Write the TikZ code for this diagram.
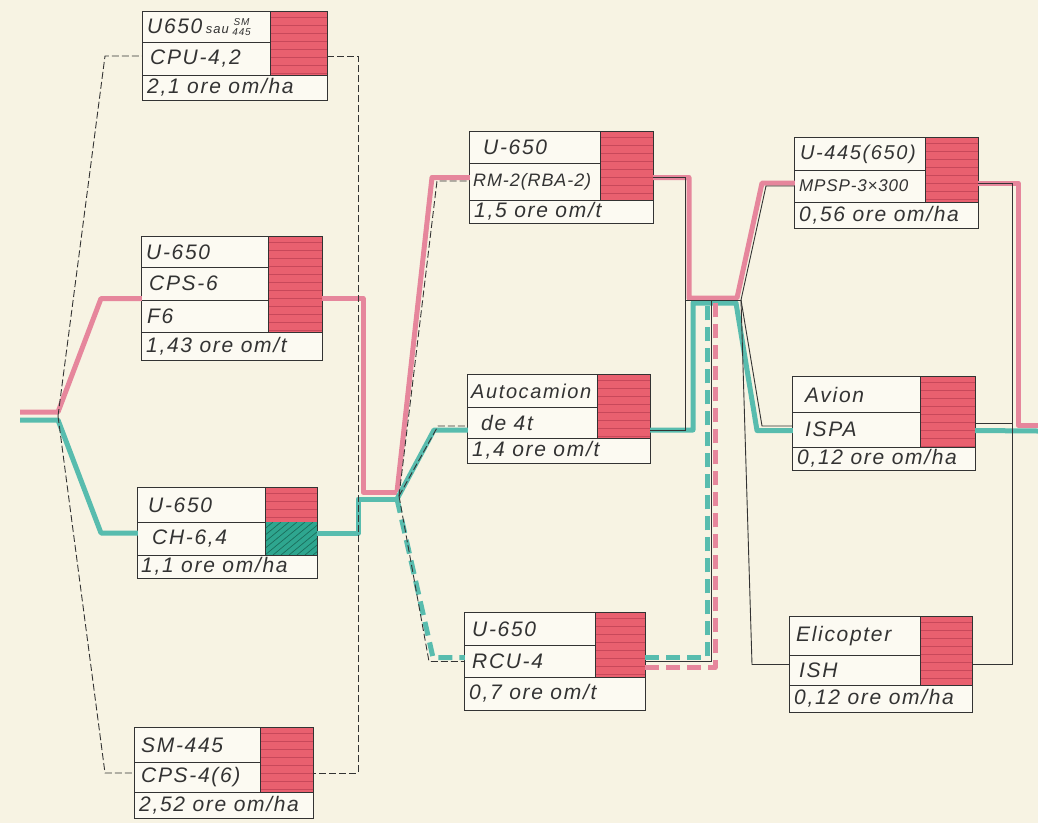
\documentclass[tikz,border=0pt]{standalone}
\usepackage{fontspec}
\setmainfont{Liberation Sans}
\newfontfamily\handfont{Liberation Sans}[LetterSpace=8]
\newfontfamily\handfontn{Liberation Sans}[LetterSpace=5]
\usetikzlibrary{fit,calc}
\definecolor{bgc}{HTML}{F7F3E3}
\definecolor{boxc}{HTML}{FCFAF2}
\definecolor{redf}{HTML}{E9606F}
\definecolor{redl}{HTML}{C8485A}
\definecolor{pinkl}{HTML}{E6869C}
\definecolor{tealc}{HTML}{58BCAE}
\definecolor{tealf}{HTML}{2EA68F}
\definecolor{teald}{HTML}{1B6E5C}
\definecolor{ink}{HTML}{333333}
\newcommand{\hand}{\handfont\itshape\fontsize{21}{24}\selectfont}
\newcommand{\handm}{\handfont\itshape\fontsize{20}{23}\selectfont}
\newcommand{\handsm}{\handfontn\itshape\fontsize{18}{21}\selectfont}
\newcommand{\handxs}{\handfontn\itshape\fontsize{17}{20}\selectfont}
\newcommand{\redblock}[4]{%
  \fill[redf] (#1,#2) rectangle (#3,#4);
  \begin{scope}
    \clip (#1,#2) rectangle (#3,#4);
    \foreach \k in {0,...,14} \draw[redl, line width=0.6pt] (#1,#2+5+8*\k) -- (#3,#2+5+8*\k);
  \end{scope}
  \draw[rowl] (#1,#2) -- (#1,#4);}
\newcommand{\tealblock}[4]{%
  \fill[tealf] (#1,#2) rectangle (#3,#4);
  \begin{scope}
    \clip (#1,#2) rectangle (#3,#4);
    \foreach \k in {0,...,12} \draw[teald, line width=0.7pt] (#1-40+8*\k,#4) -- (#1+8*\k,#2);
  \end{scope}}
\begin{document}
\begin{tikzpicture}[x=1pt,y=-1pt,
  boxbg/.style={fill=boxc, inner sep=0pt, draw=none},
  frame/.style={draw=ink, line width=1.1pt},
  rowl/.style={draw=ink, line width=0.9pt},
  txt/.style={anchor=west, inner sep=0pt, text=ink, font=\hand},
  txtm/.style={txt, font=\handm},
  txts/.style={txt, font=\handsm},
  txtxs/.style={txt, font=\handxs},
  redpath/.style={draw=pinkl, line width=5pt, line join=round},
  tealpath/.style={draw=tealc, line width=5pt, line join=round},
  tealdash/.style={tealpath, dash pattern=on 14pt off 7pt},
  pinkdash/.style={redpath, dash pattern=on 14pt off 7pt},
  net/.style={draw=ink, line width=0.9pt},
  netd/.style={net, dash pattern=on 7pt off 3pt}]
\fill[bgc] (0,0) rectangle (1038,823);
\useasboundingbox (0,0) rectangle (1038,823);

% ---------- boxes (backgrounds) ----------
\node[boxbg, fit={(143,12) (327,100)}] (b1) {};
\node[boxbg, fit={(142,237) (322,360)}] (b2) {};
\node[boxbg, fit={(138,488) (317,578)}] (b3) {};
\node[boxbg, fit={(135,728) (313,818)}] (b4) {};
\node[boxbg, fit={(470,132) (653,223)}] (b5) {};
\node[boxbg, fit={(468,375) (650,463)}] (b6) {};
\node[boxbg, fit={(465,613) (645,710)}] (b7) {};
\node[boxbg, fit={(795,138) (978,228)}] (b8) {};
\node[boxbg, fit={(793,377) (975,470)}] (b9) {};
\node[boxbg, fit={(790,617) (972,712)}] (b10) {};

% ---------- coloured blocks ----------
\redblock{270}{12}{327}{75}
\redblock{268}{237}{322}{332}
\redblock{265}{488}{317}{522}
\tealblock{265}{522}{317}{555}
\draw[rowl] (265,488) -- (265,555);
\redblock{260}{728}{313}{792}
\redblock{600}{132}{653}{200}
\redblock{597}{375}{650}{438}
\redblock{595}{613}{645}{677}
\redblock{925}{138}{978}{202}
\redblock{920}{377}{975}{447}
\redblock{920}{617}{972}{685}

% ---------- row lines ----------
\draw[rowl] (143,42) -- (270,42) (143,75) -- (327,75);
\draw[rowl] (142,267) -- (268,267) (142,300) -- (268,300) (142,332) -- (322,332);
\draw[rowl] (138,522) -- (265,522) (138,555) -- (317,555);
\draw[rowl] (135,762) -- (260,762) (135,792) -- (313,792);
\draw[rowl] (470,163) -- (600,163) (470,200) -- (653,200);
\draw[rowl] (468,407) -- (597,407) (468,438) -- (650,438);
\draw[rowl] (465,645) -- (595,645) (465,677) -- (645,677);
\draw[rowl] (795,170) -- (925,170) (795,202) -- (978,202);
\draw[rowl] (793,412) -- (920,412) (793,447) -- (975,447);
\draw[rowl] (790,655) -- (920,655) (790,685) -- (972,685);

% ---------- frames ----------
\foreach \b in {b1,b2,b3,b4,b5,b6,b7,b8,b9,b10}
  \draw[frame] (\b.south west) rectangle (\b.north east);

% ---------- texts ----------
\node[txt] (t1a) at (147,27) {U650\,{\fontsize{13}{13}\selectfont sau}\,\raisebox{-2pt}{\fontsize{10}{10}\selectfont\shortstack{SM\\445}}};
\node[txt] (t1b) at (150,58.5) {CPU-4,2};
\node[txt] (t1c) at (147,87.5) {2,1 ore om/ha};
\node[txt] (t2a) at (146,252) {U-650};
\node[txt] (t2b) at (149,283.5) {CPS-6};
\node[txt] (t2c) at (147,316) {F6};
\node[txt] (t2d) at (146,346) {1,43 ore om/t};
\node[txt] (t3a) at (148,505) {U-650};
\node[txt] (t3b) at (152,538.5) {CH-6,4};
\node[txt] (t3c) at (141,566.5) {1,1 ore om/ha};
\node[txt] (t4a) at (141,745) {SM-445};
\node[txt] (t4b) at (141,777) {CPS-4(6)};
\node[txt] (t4c) at (139,805) {2,52 ore om/ha};
\node[txt] (t5a) at (483,147.5) {U-650};
\node[txts] (t5b) at (473,181.5) {RM-2(RBA-2)};
\node[txt] (t5c) at (474,211.5) {1,5 ore om/t};
\node[txtm] (t6a) at (471,391) {Autocamion};
\node[txt] (t6b) at (481,422.5) {de 4t};
\node[txt] (t6c) at (472,450.5) {1,4 ore om/t};
\node[txt] (t7a) at (472,629) {U-650};
\node[txt] (t7b) at (472,661) {RCU-4};
\node[txt] (t7c) at (469,693.5) {0,7 ore om/t};
\node[txtm] (t8a) at (800,154) {U-445(650)};
\node[txtxs] (t8b) at (799,186) {MPSP-3×300};
\node[txt] (t8c) at (799,215) {0,56 ore om/ha};
\node[txt] (t9a) at (805,394.5) {Avion};
\node[txt] (t9b) at (805,429.5) {ISPA};
\node[txt] (t9c) at (797,458.5) {0,12 ore om/ha};
\node[txt] (t10a) at (796,636) {Elicopter};
\node[txt] (t10b) at (799,670) {ISH};
\node[txt] (t10c) at (794,698.5) {0,12 ore om/ha};

% ---------- coordinates ----------
\coordinate (inR) at (20,412);
\coordinate (inT) at (20,420);
\coordinate (s1) at (58,416);
\coordinate (s2r) at (397,492);
\coordinate (s2t) at (397,499);
\coordinate (s2) at (399,496);
\coordinate (m) at (741,300);
\coordinate (outR) at (1038,425);
\coordinate (outT) at (1038,431);

% ---------- column 1 ----------
\draw[redpath] (inR) -- (58,412) -- (101,298.5) -- (b2.west);
\draw[tealpath] (inT) -- (58,420) -- (101,533) -- (b3.west);
\draw[netd] (s1) -- (105,56) -- (b1.west);
\draw[netd] (s1) -- (105,773) -- (b4.west);
\draw[redpath] (b2.east) -- (363,298.5) -- (363,492) -- (s2r);
\draw[tealpath] (b3.east) -- (358,533) -- (358,499) -- (s2t);
\draw[netd] (b1.east) -- (358,56) -- (358,773) -- (b4.east);

% ---------- column 2 ----------
\draw[redpath] (s2r) -- (432,177.5) -- (b5.west);
\draw[tealpath] (s2t) -- (434,430) -- ([yshift=-11pt]b6.west);
\draw[tealdash] (s2t) -- (433,657.5) -- ([yshift=4pt]b7.west);
\draw[netd] (s2) -- (437,181) -- ([yshift=-3.5pt]b5.west);
\draw[netd] (s2) -- (438,426) -- ([yshift=-7pt]b6.west);
\draw[netd] (s2) -- (429,661.5) -- (b7.west);

\draw[redpath] (b5.east) -- (689,177.5) -- (689,298) -- (737,298) -- (762,183) -- (b8.west);
\draw[tealpath] ([yshift=-11pt]b6.east) -- (693,430) -- (693,303) -- (736,303) -- (757,430.5) -- ([yshift=-7pt]b9.west);
\draw[tealdash] ([yshift=4pt]b7.east) -- (707,657.5) -- (707,303);
\draw[pinkdash] ([yshift=-6pt]b7.east) -- (715,667.5) -- (715,298);
\draw[net] (b5.east) -- (685,177.5) -- (685,430) -- ([yshift=-11pt]b6.east);
\draw[net] (685,300) -- (m);
\draw[net] (b7.east) -- (711,661.5) -- (711,300);

% ---------- column 3 ----------
\draw[net] (m) -- (766,186) -- ([yshift=-3pt]b8.west);
\draw[net] (m) -- (762,426) -- ([yshift=-2.5pt]b9.west);
\draw[net] (m) -- (752,664.5) -- (b10.west);
\draw[redpath] (b8.east) -- (1018,183) -- (1018,425) -- (outR);
\draw[tealpath] ([yshift=-7pt]b9.east) -- (outT);
\draw[net] (b8.east) -- (1012,183) -- (1012,664.5) -- (b10.east);
\draw[net] (b9.east) -- (1012,423.5);
\end{tikzpicture}
\end{document}
